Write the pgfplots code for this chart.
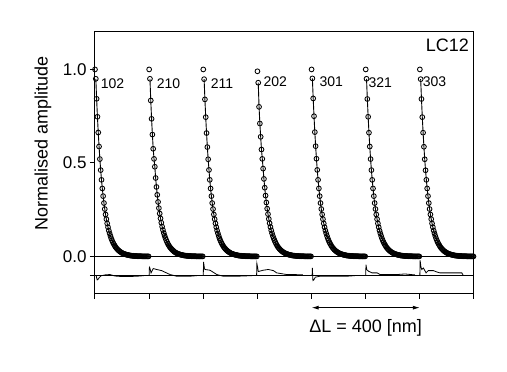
\documentclass[border=0pt]{standalone}
\usepackage{fontspec}
\setmainfont{Liberation Sans}
\usepackage{pgfplots}
\pgfplotsset{compat=1.18}
\usepackage{pgfplotstable}
\usetikzlibrary{calc,arrows.meta}

% distance d [nm] from the start of each scan; one column per reflection
\pgfplotstableread{
d   s102  s210  s211  s202  s301  s321  s303
0   1.000 1.000 1.000 0.990 1.000 1.000 1.000
3   0.950 0.950 0.948 0.929 0.952 0.950 0.948
6   0.843 0.834 0.840 0.800 0.845 0.842 0.842
9   0.747 0.736 0.745 0.711 0.750 0.747 0.745
12  0.663 0.652 0.660 0.640 0.665 0.662 0.662
15  0.588 0.576 0.585 0.572 0.590 0.588 0.587
18  0.521 0.522 0.520 0.522 0.523 0.521 0.520
21  0.462 0.480 0.463 0.470 0.463 0.462 0.461
24  0.410 0.420 0.410 0.415 0.410 0.410 0.410
27  0.364 0.372 0.364 0.368 0.364 0.364 0.364
30  0.323 0.330 0.323 0.326 0.323 0.323 0.323
33  0.286 0.292 0.286 0.289 0.286 0.286 0.286
36  0.254 0.259 0.254 0.256 0.254 0.254 0.254
39  0.225 0.230 0.225 0.227 0.225 0.225 0.225
42  0.200 0.204 0.200 0.201 0.200 0.200 0.200
45  0.177 0.181 0.177 0.178 0.177 0.177 0.177
48  0.157 0.160 0.157 0.158 0.157 0.157 0.157
51  0.139 0.142 0.139 0.140 0.139 0.139 0.139
54  0.124 0.126 0.124 0.124 0.124 0.124 0.124
57  0.110 0.112 0.110 0.110 0.110 0.110 0.110
60  0.097 0.099 0.097 0.098 0.097 0.097 0.097
63  0.086 0.088 0.086 0.087 0.086 0.086 0.086
66  0.076 0.078 0.076 0.077 0.076 0.076 0.076
69  0.068 0.069 0.068 0.068 0.068 0.068 0.068
72  0.060 0.061 0.060 0.060 0.060 0.060 0.060
75  0.053 0.054 0.053 0.053 0.053 0.053 0.053
78  0.047 0.048 0.047 0.047 0.047 0.047 0.047
81  0.042 0.043 0.042 0.042 0.042 0.042 0.042
84  0.037 0.038 0.037 0.037 0.037 0.037 0.037
87  0.033 0.034 0.033 0.033 0.033 0.033 0.033
90  0.029 0.030 0.029 0.029 0.029 0.029 0.029
93  0.026 0.026 0.026 0.026 0.026 0.026 0.026
96  0.023 0.023 0.023 0.023 0.023 0.023 0.023
99  0.020 0.020 0.020 0.020 0.020 0.020 0.020
102 0.018 0.018 0.018 0.018 0.018 0.018 0.018
105 0.016 0.016 0.016 0.016 0.016 0.016 0.016
108 0.014 0.014 0.014 0.014 0.014 0.014 0.014
111 0.013 0.013 0.013 0.013 0.013 0.013 0.013
114 0.011 0.011 0.011 0.011 0.011 0.011 0.011
117 0.010 0.010 0.010 0.010 0.010 0.010 0.010
120 0.009 0.009 0.009 0.009 0.009 0.009 0.009
123 0.008 0.008 0.008 0.008 0.008 0.008 0.008
126 0.007 0.007 0.007 0.007 0.007 0.007 0.007
129 0.006 0.006 0.006 0.006 0.006 0.006 0.006
132 0.005 0.005 0.005 0.005 0.005 0.005 0.005
135 0.005 0.005 0.005 0.005 0.005 0.005 0.005
138 0.004 0.004 0.004 0.004 0.004 0.004 0.004
141 0.004 0.004 0.004 0.004 0.004 0.004 0.004
144 0.003 0.003 0.003 0.003 0.003 0.003 0.003
147 0.003 0.003 0.003 0.003 0.003 0.003 0.003
150 0.003 0.003 0.003 0.003 0.003 0.003 0.003
153 0.003 0.003 0.003 0.003 0.003 0.003 0.003
156 0.002 0.002 0.002 0.002 0.002 0.002 0.002
159 0.002 0.002 0.002 0.002 0.002 0.002 0.002
162 0.002 0.002 0.002 0.002 0.002 0.002 0.002
165 0.002 0.002 0.002 0.002 0.002 0.002 0.002
168 0.002 0.002 0.002 0.002 0.002 0.002 0.002
171 0.002 0.002 0.002 0.002 0.002 0.002 0.002
174 0.001 0.001 0.001 0.001 0.001 0.001 0.001
177 0.001 0.001 0.001 0.001 0.001 0.001 0.001
180 0.001 0.001 0.001 0.001 0.001 0.001 0.001
183 0.001 0.001 0.001 0.001 0.001 0.001 0.001
186 0.001 0.001 0.001 0.001 0.001 0.001 0.001
189 0.001 0.001 0.001 0.001 0.001 0.001 0.001
192 0.001 0.001 0.001 0.001 0.001 0.001 0.001
195 0.001 0.001 0.001 0.001 0.001 0.001 0.001
198 0.001 0.001 0.001 0.001 0.001 0.001 0.001
}\decays

\pgfplotsset{
  dat/.style={only marks, mark=o, mark size=2.4pt, mark options={line width=0.85pt, black}},
  fit/.style={black, line width=0.9pt, no markers, skip coords between index={0}{1}},
  res/.style={black, line width=0.8pt, no markers},
}

\begin{document}
\begin{tikzpicture}
\begin{axis}[
  name=ax,
  scale only axis,
  width=379pt, height=262pt,
  xmin=0, xmax=1400, ymin=-0.2, ymax=1.2,
  xtick={0,200,...,1400}, xticklabels={},
  ytick={0,0.5,1.0},
  extra y ticks={-0.1}, extra y tick labels={},
  tick align=outside,
  major tick length=5pt,
  xtick pos=bottom, ytick pos=left,
  axis line style={line width=1pt},
  every tick/.style={black, line width=1pt},
  /pgf/number format/assume math mode=true,
  yticklabel style={font=\fontsize{17pt}{20pt}\selectfont,
    /pgf/number format/fixed, /pgf/number format/fixed zerofill,
    /pgf/number format/precision=1},
  ylabel={Normalised amplitude},
  ylabel style={font=\fontsize{18pt}{21pt}\selectfont, at={(axis description cs:-0.137,0.573)}, anchor=center},
  clip=false,
]
% reference lines
\addplot[res] coordinates {(0,0) (1400,0)};
\addplot[res] coordinates {(0,-0.1) (1400,-0.1)};

% data and fits
\addplot[fit] table[x expr=\thisrow{d}, y=s102] {\decays};
\addplot[dat] table[x expr=\thisrow{d}, y=s102] {\decays};
\addplot[fit] table[x expr=\thisrow{d}+200, y=s210] {\decays};
\addplot[dat] table[x expr=\thisrow{d}+200, y=s210] {\decays};
\addplot[fit] table[x expr=\thisrow{d}+400, y=s211] {\decays};
\addplot[dat] table[x expr=\thisrow{d}+400, y=s211] {\decays};
\addplot[fit] table[x expr=\thisrow{d}+600, y=s202] {\decays};
\addplot[dat] table[x expr=\thisrow{d}+600, y=s202] {\decays};
\addplot[fit] table[x expr=\thisrow{d}+800, y=s301] {\decays};
\addplot[dat] table[x expr=\thisrow{d}+800, y=s301] {\decays};
\addplot[fit] table[x expr=\thisrow{d}+1000, y=s321] {\decays};
\addplot[dat] table[x expr=\thisrow{d}+1000, y=s321] {\decays};
\addplot[fit] table[x expr=\thisrow{d}+1200, y=s303] {\decays};
\addplot[dat] table[x expr=\thisrow{d}+1200, y=s303] {\decays};

% residuals (offset to -0.1)
\addplot[res] coordinates {(4,-0.100) (8,-0.125) (12,-0.120) (16,-0.112) (22,-0.103) (37,-0.098) (55,-0.096) (74,-0.104) (103,-0.107) (137,-0.106) (166,-0.104) (185,-0.101)};
\addplot[res] coordinates {(200,-0.098) (201,-0.057) (203,-0.062) (207,-0.087) (215,-0.064) (228,-0.069) (246,-0.075) (277,-0.096) (302,-0.105) (351,-0.105) (376,-0.102)};
\addplot[res] coordinates {(400,-0.098) (401,-0.029) (404,-0.060) (406,-0.069) (425,-0.073) (450,-0.096) (473,-0.105) (525,-0.105) (580,-0.102)};
\addplot[res] coordinates {(597,-0.098) (598,-0.037) (601,-0.060) (603,-0.080) (621,-0.073) (640,-0.069) (659,-0.075) (671,-0.087) (708,-0.096) (768,-0.097)};
\addplot[res] coordinates {(802,-0.098) (803,-0.061) (805,-0.128) (808,-0.125) (814,-0.110) (831,-0.105) (930,-0.105) (960,-0.102)};
\addplot[res] coordinates {(1000,-0.098) (1001,-0.043) (1004,-0.070) (1010,-0.078) (1023,-0.087) (1042,-0.087) (1053,-0.096) (1115,-0.096) (1145,-0.093) (1182,-0.098)};
\addplot[res] coordinates {(1200,-0.098) (1201,-0.021) (1204,-0.055) (1207,-0.069) (1213,-0.061) (1223,-0.087) (1231,-0.075) (1250,-0.075) (1262,-0.082) (1274,-0.087) (1355,-0.087) (1360,-0.100)};

% labels
\begin{scope}[every node/.style={font=\fontsize{14pt}{16pt}\selectfont, inner sep=0pt, anchor=base west}]
\node at (axis cs:21,0.898) {102};
\node at (axis cs:228,0.897) {210};
\node at (axis cs:427,0.897) {211};
\node at (axis cs:622,0.911) {202};
\node at (axis cs:829,0.907) {301};
\node at (axis cs:1010,0.905) {321};
\node at (axis cs:1210,0.911) {303};
\end{scope}
\node[font=\fontsize{18pt}{21pt}\selectfont, inner sep=0pt, anchor=base east] at (axis cs:1382,1.096) {LC12};
\draw[{Latex[length=7pt,width=4pt]}-{Latex[length=7pt,width=4pt]}, line width=0.9pt] (axis cs:800,-0.273) -- (axis cs:1200,-0.273);
\node[font=\fontsize{18pt}{21pt}\selectfont, inner sep=0pt, anchor=base] at (axis cs:1000,-0.408) {ΔL = 400 [nm]};
\end{axis}
\path[use as bounding box] ($(ax.south west)+(-95pt,-78pt)$) rectangle ($(ax.north east)+(33pt,32pt)$);
\end{tikzpicture}
\end{document}
